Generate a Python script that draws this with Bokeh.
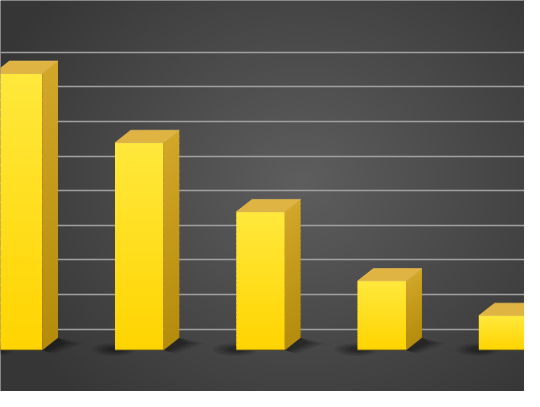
import numpy as np
from bokeh.plotting import figure
from bokeh.models import FixedTicker, Grid
from bokeh.embed import file_html
from bokeh.resources import INLINE

# ---- data ----
positions = [0, 1, 2, 3, 4]
values = [8, 6, 4, 2, 1]
grid_levels = [0.611 + k for k in range(9)]

# ---- geometry / styling ----
W, H = 524, 391
X0, X1 = -0.144, 4.176
Y0, Y1 = -1.194, 10.111
HALF = 0.2          # half width of bar front
DX = 0.13           # depth offset x (data units)
DY = 0.36           # depth offset y (data units)

p = figure(width=W, height=H, x_range=(X0, X1), y_range=(Y0, Y1),
           output_backend="svg", toolbar_location=None, min_border=0,
           x_axis_type=None, y_axis_type=None, outline_line_color=None,
           background_fill_color="#474747", border_fill_color="#474747")

# background radial gradient
ny, nx = 204, 270
xs = np.linspace(0, 540, nx)
ys = np.linspace(407, 0, ny)
XX, YY = np.meshgrid(xs, ys)
d = np.sqrt(((XX - 310) / 330.0) ** 2 + ((YY - 190) / 290.0) ** 2)
L = np.clip(94 - 38 * d, 54, 96).astype(np.uint8)
img = np.empty((ny, nx), dtype=np.uint32)
view = img.view(dtype=np.uint8).reshape((ny, nx, 4))
view[..., 0] = L
view[..., 1] = L
view[..., 2] = L
view[..., 3] = 255
p.image_rgba(image=[img], x=X0, y=Y0, dw=X1 - X0, dh=Y1 - Y0, level="image")

p.add_layout(Grid(dimension=1, ticker=FixedTicker(ticks=grid_levels),
                  grid_line_color="#a0a0a0", grid_line_width=1.4))


def lerp(c1, c2, t):
    a = np.array([int(c1[i:i + 2], 16) for i in (1, 3, 5)])
    b = np.array([int(c2[i:i + 2], 16) for i in (1, 3, 5)])
    c = (a + (b - a) * t).round().astype(int)
    return "#%02x%02x%02x" % tuple(c)


# shadows
for xi, v in zip(positions, values):
    for k, a in enumerate([0.09, 0.11, 0.13, 0.16]):
        s = 1.0 - k * 0.22
        p.ellipse(x=xi - HALF + 0.02 - 0.03 * s, y=0.02, width=0.30 * s + 0.06,
                  height=0.32 * s + 0.05, fill_color="black", fill_alpha=a, line_color=None)
        p.patch(x=[xi + HALF, xi + HALF + DX, xi + HALF + DX + 0.20 * s, xi + HALF + 0.10 * s],
                y=[0.0, DY, DY * 0.55, -0.10 * s],
                fill_color="black", fill_alpha=a, line_color=None)

N = 30
OV = 0.04  # overlap between slices to avoid seams
for xi, v in zip(positions, values):
    edges = np.linspace(0, v, N + 1)
    bottoms = edges[:-1]
    tops = np.minimum(edges[1:] + OV, v)
    mids = (edges[:-1] + edges[1:]) / 2 / v
    # front face
    cols = [lerp("#ffd400", "#ffe83c", t) for t in mids]
    p.quad(left=[xi - HALF] * N, right=[xi + HALF] * N, bottom=bottoms, top=tops,
           fill_color=cols, line_color=None)
    # side face
    scols = [lerp("#b58c0c", "#d2a628", t) for t in mids]
    sx = [[xi + HALF, xi + HALF + DX, xi + HALF + DX, xi + HALF] for _ in range(N)]
    sy = [[b, b + DY, t + DY, t] for b, t in zip(bottoms, tops)]
    p.patches(xs=sx, ys=sy, fill_color=scols, line_color=None)
    # top face
    p.patch(x=[xi - HALF, xi + HALF, xi + HALF + DX, xi - HALF + DX],
            y=[v, v, v + DY, v + DY], fill_color="#e0b443", line_color="#eec457",
            line_width=0.6)
    # thin dark base line
    p.segment(x0=[xi - HALF], y0=[0], x1=[xi + HALF], y1=[0],
              line_color="#2a2a2a", line_width=1.2, line_alpha=0.6)

open("out.html", "w").write(file_html(p, INLINE))
